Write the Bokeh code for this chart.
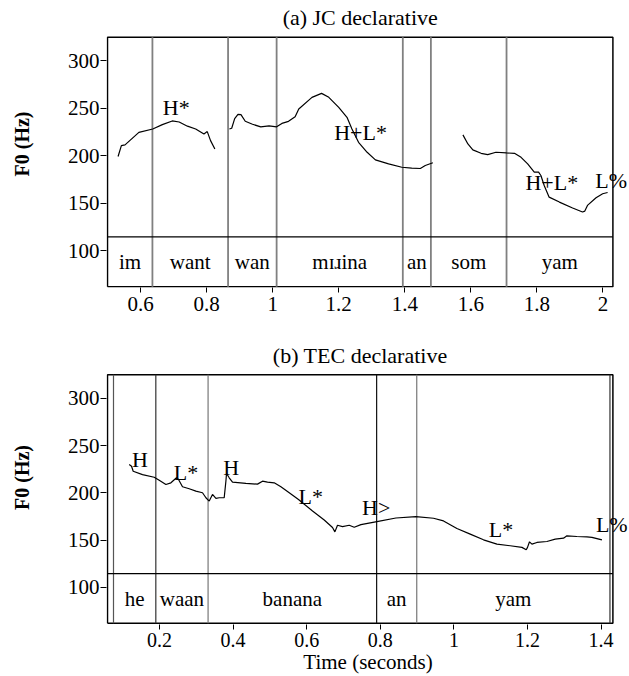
from bokeh.plotting import figure
from bokeh.layouts import column
from bokeh.models import FixedTicker
from bokeh.core.properties import value
from bokeh.embed import file_html
from bokeh.resources import INLINE

FONT = "Liberation Serif"

# ---------------- data ----------------
y_ticks = [100, 150, 200, 250, 300]
f0_box = (62, 325)          # pitch box limits (Hz)
tier_line_f0 = 114.5
word_f0 = 88
title_f0 = 345.4

# Panel (a) JC declarative
a_title = "(a) JC declarative"
a_xlim = (0.5, 2.03)
a_xticks = [0.6, 0.8, 1.0, 1.2, 1.4, 1.6, 1.8, 2.0]
a_xtick_labels = ["0.6", "0.8", "1", "1.2", "1.4", "1.6", "1.8", "2"]
a_bounds = [0.636, 0.865, 1.012, 1.394, 1.479, 1.708]
a_words = ["im", "want", "wan", "mɪɹina", "an", "som", "yam"]
a_t1 = [0.532, 0.542, 0.553, 0.595, 0.637, 0.666, 0.696, 0.717, 0.742, 0.767, 0.792, 0.802, 0.812, 0.825]
a_f1 = [199.2, 210.7, 211.5, 224.7, 228.2, 232.8, 236.7, 235.6, 231.2, 228.2, 223.0, 225.5, 216.0, 207.1]
a_t2 = [0.869, 0.876, 0.885, 0.895, 0.904, 0.917, 0.939, 0.964, 0.989, 1.012, 1.028, 1.048, 1.068, 1.079,
        1.119, 1.148, 1.170, 1.200, 1.225, 1.240, 1.260, 1.286, 1.311, 1.351, 1.391, 1.421, 1.447, 1.462, 1.485]
a_f2 = [228.2, 229.0, 239.1, 243.7, 243.4, 236.4, 233.2, 230.5, 231.5, 230.5, 234.1, 236.3, 241.2, 249.3,
        261.6, 265.8, 261.6, 251.1, 240.6, 228.2, 214.2, 203.7, 195.7, 191.5, 187.9, 186.9, 186.6, 189.7, 192.6]
a_t3 = [1.576, 1.591, 1.606, 1.631, 1.651, 1.676, 1.708, 1.732, 1.752, 1.772, 1.792, 1.805, 1.812, 1.822,
        1.837, 1.868, 1.908, 1.938, 1.945, 1.953, 1.979, 1.999, 2.014]
a_f3 = [222.0, 212.5, 206.2, 202.6, 201.3, 203.7, 203.0, 202.6, 198.4, 191.5, 182.7, 182.7, 179.2, 168.7,
        156.4, 151.2, 144.9, 140.7, 141.7, 147.7, 155.8, 160.0, 161.3]
a_tones = ["H*", "H+L*", "H+L*", "L%"]
a_tone_t = [0.708, 1.266, 1.845, 2.025]
a_tone_f0 = [250.5, 225.0, 171.4, 174.4]

# Panel (b) TEC declarative
b_title = "(b) TEC declarative"
b_xlim = (0.0587, 1.432)
b_xticks = [0.2, 0.4, 0.6, 0.8, 1.0, 1.2, 1.4]
b_xtick_labels = ["0.2", "0.4", "0.6", "0.8", "1", "1.2", "1.4"]
b_bounds = [0.075, 0.19, 0.332, 0.79, 0.899, 1.424]
b_words = ["he", "waan", "banana", "an", "yam"]
b_t = [0.1177, 0.124, 0.1285, 0.1538, 0.1856, 0.1992, 0.2174, 0.2310, 0.2462, 0.2517, 0.2625, 0.2807,
       0.2989, 0.3168, 0.3261, 0.3351, 0.3440, 0.3533, 0.3622, 0.3758, 0.3804, 0.3821, 0.3894, 0.3984,
       0.4348, 0.4663, 0.4799, 0.4935, 0.5117, 0.5299, 0.5525, 0.5777, 0.6158, 0.6476, 0.6701, 0.6766,
       0.6837, 0.6973, 0.7155, 0.7291, 0.7473, 0.7908, 0.8424, 0.8967, 0.9446, 0.9717, 1.0082, 1.0443,
       1.0804, 1.1169, 1.1530, 1.1848, 1.1965, 1.2000, 1.2054, 1.2120, 1.2256, 1.2527, 1.2753, 1.2978,
       1.3071, 1.3342, 1.3614, 1.3750, 1.4022]
b_f = [229.9, 228.1, 222.8, 219.3, 216.5, 213.3, 208.8, 210.6, 215.9, 214.1, 206.4, 204.3,
       201.8, 200.1, 194.8, 191.3, 198.3, 194.1, 194.8, 194.8, 212.3, 220.4, 215.9, 211.3,
       209.9, 209.2, 212.3, 211.3, 210.6, 206.4, 200.1, 193.0, 180.8, 171.3, 163.3, 158.7,
       165.7, 164.3, 165.7, 163.6, 166.4, 169.6, 173.4, 174.8, 173.1, 170.3, 162.2, 156.3,
       150.3, 145.7, 144.0, 142.3, 139.8, 142.3, 148.2, 145.7, 147.5, 148.5, 151.0, 152.0,
       154.5, 153.8, 153.4, 152.8, 150.3]
b_tones = ["H", "L*", "H", "L*", "H>", "L*", "L%"]
b_tone_t = [0.147, 0.272, 0.395, 0.611, 0.789, 1.128, 1.429]
b_tone_f0 = [235.1, 222.0, 226.4, 196.5, 184.7, 161.5, 166.8]

# ---------------- layout (pixels) ----------------
FIG_W = 629
FRAME_LEFT = 106          # frame starts 1 px left of the box
BOX_W = 505.4             # box width in px
BOX_H = 249.5             # box height in px


def make_panel(title, xlim, xticks, xtick_labels, bounds, bound_colors, bound_width,
               words, segments, tones, tone_t, tone_f0, height, box_top_px, bottom_border,
               xlabel=None, tick_label_standoff=3):
    frame_w = FIG_W - FRAME_LEFT
    frame_h = height - bottom_border
    dx = (xlim[1] - xlim[0]) / BOX_W
    dy = (f0_box[1] - f0_box[0]) / BOX_H
    x_start = xlim[0] - 1.0 * dx
    x_end = x_start + frame_w * dx
    box_bottom_px = box_top_px + BOX_H
    y_start = f0_box[0] - (frame_h - box_bottom_px) * dy
    y_end = y_start + frame_h * dy

    p = figure(width=FIG_W, height=height, x_range=(x_start, x_end), y_range=(y_start, y_end),
               output_backend="svg", toolbar_location=None,
               min_border_left=FRAME_LEFT, min_border_right=0,
               min_border_top=0, min_border_bottom=bottom_border)
    p.xgrid.visible = False
    p.ygrid.visible = False
    p.outline_line_color = None
    p.background_fill_color = "white"
    p.border_fill_color = "white"

    for ax in (p.xaxis[0], p.yaxis[0]):
        ax.axis_line_color = None
        ax.minor_tick_line_color = None
        ax.major_tick_in = 0
        ax.major_tick_line_color = "black"
        ax.major_label_text_font = FONT
        ax.major_label_text_font_size = "21px"
        ax.major_label_text_color = "black"

    p.xaxis.ticker = FixedTicker(ticks=xticks)
    p.xaxis.major_label_overrides = {t: s for t, s in zip(xticks, xtick_labels)}
    p.xaxis.major_tick_out = 5
    p.xaxis.major_label_standoff = tick_label_standoff

    p.yaxis.ticker = FixedTicker(ticks=y_ticks)
    p.yaxis.major_tick_out = 6
    p.yaxis.major_label_standoff = 1
    p.yaxis.axis_label = "F0 (Hz)"
    p.yaxis.axis_label_text_font = FONT
    p.yaxis.axis_label_text_font_style = "bold"
    p.yaxis.axis_label_text_font_size = "20px"
    p.yaxis.axis_label_text_color = "black"
    p.yaxis.axis_label_standoff = 32

    if xlabel:
        p.xaxis.axis_label = xlabel
        p.xaxis.axis_label_text_font = FONT
        p.xaxis.axis_label_text_font_style = "normal"
        p.xaxis.axis_label_text_font_size = "21px"
        p.xaxis.axis_label_text_color = "black"
        p.xaxis.axis_label_standoff = 0
        p.xaxis.major_label_text_font_size = "20px"

    # box around pitch + tier area
    p.line([xlim[0], xlim[1], xlim[1], xlim[0], xlim[0]],
           [f0_box[0], f0_box[0], f0_box[1], f0_box[1], f0_box[0]],
           line_color="black", line_width=1.5)
    # interval boundaries
    p.segment(x0=bounds, y0=[f0_box[0]] * len(bounds), x1=bounds, y1=[f0_box[1]] * len(bounds),
              line_color=bound_colors, line_width=bound_width)
    # tier separator
    p.segment(x0=[xlim[0]], y0=[tier_line_f0], x1=[xlim[1]], y1=[tier_line_f0],
              line_color="black", line_width=1.3)

    # words in the tier
    edges = [xlim[0]] + bounds + [xlim[1]]
    if len(bounds) == len(words) + 1:
        edges = bounds
    mids = [(edges[i] + edges[i + 1]) / 2 for i in range(len(words))]
    p.text(x=mids, y=[word_f0] * len(words), text=words, text_font=value(FONT),
           text_font_size="21px", text_align="center", text_baseline="middle", text_color="black")

    # F0 contours
    for ts, fs in segments:
        p.line(ts, fs, line_color="black", line_width=1.2)

    # tone labels
    p.text(x=tone_t, y=tone_f0, text=tones, text_font=value(FONT), text_font_size="22px",
           text_align="center", text_baseline="middle", text_color="black")

    # title
    p.text(x=[(xlim[0] + xlim[1]) / 2], y=[title_f0], text=[title], text_font=value(FONT),
           text_font_size="22px", text_align="center", text_baseline="middle", text_color="black")
    return p


pa = make_panel(a_title, a_xlim, a_xticks, a_xtick_labels, a_bounds, ["#808080"] * len(a_bounds), 1.8,
                a_words, [(a_t1, a_f1), (a_t2, a_f2), (a_t3, a_f3)],
                a_tones, a_tone_t, a_tone_f0, height=330, box_top_px=36.7, bottom_border=43,
                tick_label_standoff=4)

pb = make_panel(b_title, b_xlim, b_xticks, b_xtick_labels, b_bounds,
                ["#555555", "#333333", "#777777", "#111111", "#777777", "#333333"], 1.2,
                b_words, [(b_t, b_f)],
                b_tones, b_tone_t, b_tone_f0, height=346, box_top_px=44.3, bottom_border=51,
                xlabel="Time (seconds)", tick_label_standoff=3)

layout = column(pa, pb, spacing=0)
open("out.html", "w").write(file_html(layout, INLINE))
